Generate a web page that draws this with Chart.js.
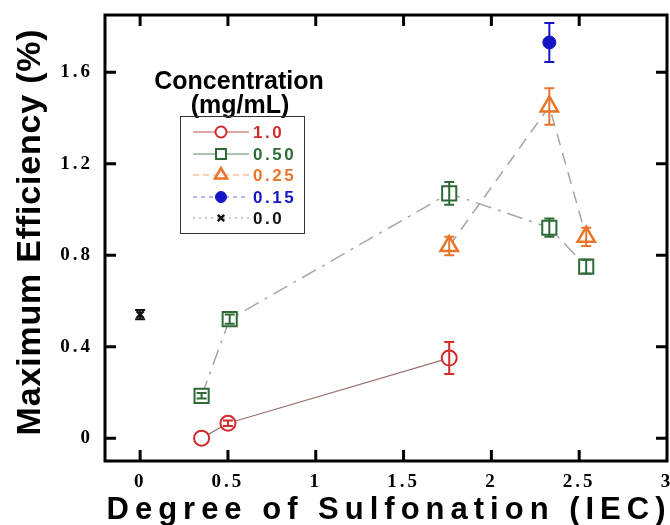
<!DOCTYPE html>
<html><head><meta charset="utf-8">
<script src="https://cdn.jsdelivr.net/npm/chart.js@4"></script>
<style>html,body{margin:0;padding:0;background:#fff;}#wrap{width:670px;height:525px;}</style>
</head><body><div id="wrap"><canvas id="c" width="670" height="525"></canvas></div>
<script>
// ---- data ----
const seriesNames = ['1.0', '0.50', '0.25', '0.15', '0.0'];
const x10 = [0.35, 0.50, 1.76];
const y10 = [0.0, 0.065, 0.35];
const e10 = [0.0, 0.012, 0.07];
const x050 = [0.35, 0.51, 1.76, 2.33, 2.54];
const y050 = [0.185, 0.52, 1.07, 0.92, 0.75];
const e050 = [0.012, 0.02, 0.05, 0.04, 0.03];
const x025 = [1.76, 2.33, 2.54];
const y025 = [0.84, 1.45, 0.88];
const e025 = [0.04, 0.08, 0.04];
const x015 = [2.33];
const y015 = [1.73];
const e015 = [0.085];
const x00 = [0.0];
const y00 = [0.54];
const e00 = [0.02];
const xTicks = [0, 0.5, 1, 1.5, 2, 2.5, 3];
const xTickLabels = ['0', '0.5', '1', '1.5', '2', '2.5', '3'];
const yTicks = [0, 0.4, 0.8, 1.2, 1.6];
const yTickLabels = ['0', '0.4', '0.8', '1.2', '1.6'];
const xTitle = 'Degree of Sulfonation (IEC)';
const yTitle = 'Maximum Efficiency (%)';
const legendTitle1 = 'Concentration';
const legendTitle2 = '(mg/mL)';

// ---- styles ----
const RED = '#d42a2a', GREEN = '#2d6a35', ORANGE = '#e8762a', BLUE = '#1515c8', BLACK = '#111111';
const GRAY = '#a6a6a6';
function pts(xs, ys) { return xs.map((x, i) => ({x: x, y: ys[i]})); }

const datasets = [
  {label: seriesNames[0], data: pts(x10, y10), errors: e10, showLine: true, borderColor: '#9c7070', borderWidth: 1.2,
   pointStyle: 'circle', pointRadius: 7.5, pointBorderColor: RED, pointBackgroundColor: '#fff', pointBorderWidth: 2, errColor: RED,
   lg: {r: 5.5, line: [], lineColor: '#c05050'}},
  {label: seriesNames[1], data: pts(x050, y050), errors: e050, showLine: true, borderColor: GRAY, borderWidth: 1.5, borderDash: [16, 7, 3, 7],
   pointStyle: 'rect', pointRadius: 10, pointBorderColor: GREEN, pointBackgroundColor: '#fff', pointBorderWidth: 2, errColor: GREEN,
   lg: {r: 7, line: [], lineColor: '#5a8a5a'}},
  {label: seriesNames[2], data: pts(x025, y025), errors: e025, showLine: true, borderColor: GRAY, borderWidth: 1.5, borderDash: [12, 8],
   pointStyle: 'triangle', pointRadius: 10, pointBorderColor: ORANGE, pointBackgroundColor: '#fff', pointBorderWidth: 2.5, errColor: ORANGE,
   lg: {r: 7, line: [6, 4], lineColor: '#f0a070'}},
  {label: seriesNames[3], data: pts(x015, y015), errors: e015, showLine: false,
   pointStyle: 'circle', pointRadius: 6.5, pointBorderColor: BLUE, pointBackgroundColor: BLUE, pointBorderWidth: 1, errColor: BLUE,
   lg: {r: 5.5, line: [4, 4], lineColor: '#7070d0'}},
  {label: seriesNames[4], data: pts(x00, y00), errors: e00, showLine: false,
   pointStyle: 'crossRot', pointRadius: 5, pointBorderColor: BLACK, pointBackgroundColor: BLACK, pointBorderWidth: 2.5, errColor: BLACK,
   lg: {r: 4.5, line: [2, 4], lineColor: '#999'}}
];
const legendColors = [RED, GREEN, ORANGE, BLUE, BLACK];

const custom = {
  id: 'custom',
  beforeDraw(chart) { chart.ctx.letterSpacing = '3px'; },
  beforeDatasetsDraw(chart) { chart.ctx.letterSpacing = '0px'; },
  afterDatasetsDraw(chart) {
    const ctx = chart.ctx, xs = chart.scales.x, ys = chart.scales.y;
    ctx.save();
    chart.data.datasets.forEach(ds => {
      ds.data.forEach((p, i) => {
        const e = ds.errors[i];
        if (!e) return;
        const px = xs.getPixelForValue(p.x);
        const t = ys.getPixelForValue(p.y + e), b = ys.getPixelForValue(p.y - e);
        ctx.strokeStyle = ds.errColor; ctx.lineWidth = 2;
        ctx.beginPath();
        ctx.moveTo(px, t); ctx.lineTo(px, b);
        ctx.moveTo(px - 5, t); ctx.lineTo(px + 5, t);
        ctx.moveTo(px - 5, b); ctx.lineTo(px + 5, b);
        ctx.stroke();
      });
    });
    ctx.restore();
  },
  afterDraw(chart) {
    const ctx = chart.ctx, a = chart.chartArea, xs = chart.scales.x, ys = chart.scales.y;
    ctx.save();
    ctx.letterSpacing = '0px';
    // frame
    ctx.strokeStyle = '#000'; ctx.lineWidth = 3;
    ctx.strokeRect(a.left, a.top, a.right - a.left, a.bottom - a.top);
    // inward ticks
    ctx.beginPath();
    xTicks.forEach(v => {
      const px = xs.getPixelForValue(v);
      if (px > a.right - 2) return;
      ctx.moveTo(px, a.bottom); ctx.lineTo(px, a.bottom - 11);
      ctx.moveTo(px, a.top); ctx.lineTo(px, a.top + 11);
    });
    yTicks.forEach(v => {
      const py = ys.getPixelForValue(v);
      ctx.moveTo(a.left, py); ctx.lineTo(a.left + 11, py);
      ctx.moveTo(a.right, py); ctx.lineTo(a.right - 11, py);
    });
    ctx.stroke();
    // axis titles
    ctx.fillStyle = '#000';
    ctx.font = 'bold 31px "Liberation Sans", Arial, sans-serif';
    ctx.letterSpacing = '6px';
    ctx.textAlign = 'center'; ctx.textBaseline = 'alphabetic';
    ctx.fillText(xTitle, 389, 519);
    ctx.save();
    ctx.translate(40, 232); ctx.rotate(-Math.PI / 2);
    ctx.font = 'bold 34px "Liberation Sans", Arial, sans-serif';
    ctx.letterSpacing = '0.8px';
    ctx.fillText(yTitle, 0, 0);
    ctx.restore();
    // legend
    ctx.letterSpacing = '0px';
    ctx.font = 'bold 25px "Liberation Sans", Arial, sans-serif';
    ctx.fillText(legendTitle1, 239, 89);
    ctx.fillText(legendTitle2, 240, 113);
    ctx.lineWidth = 1; ctx.strokeStyle = '#333';
    ctx.strokeRect(180.5, 116.5, 124, 117);
    const rows = [132, 154, 175, 197, 218];
    chart.data.datasets.forEach((ds, i) => {
      const y = rows[i];
      ctx.save();
      ctx.strokeStyle = ds.lg.lineColor; ctx.lineWidth = 1.2; ctx.setLineDash(ds.lg.line);
      ctx.beginPath(); ctx.moveTo(193, y); ctx.lineTo(249, y); ctx.stroke();
      ctx.setLineDash([]);
      ctx.fillStyle = ds.pointBackgroundColor; ctx.strokeStyle = ds.pointBorderColor;
      ctx.lineWidth = ds.pointBorderWidth;
      Chart.helpers.drawPoint(ctx, {pointStyle: ds.pointStyle, radius: ds.lg.r, rotation: 0, borderWidth: ds.pointBorderWidth}, 221, y);
      ctx.restore();
      ctx.fillStyle = legendColors[i];
      ctx.font = 'bold 17px "Liberation Sans", Arial, sans-serif';
      ctx.letterSpacing = '2.5px';
      ctx.textAlign = 'left'; ctx.textBaseline = 'middle';
      ctx.fillText(ds.label, 253, y + 1);
      ctx.letterSpacing = '0px';
    });
    ctx.restore();
  }
};

function noPad(s) { s.paddingLeft = 0; s.paddingRight = 0; s.paddingTop = 0; s.paddingBottom = 0; }

new Chart(document.getElementById('c'), {
  type: 'scatter',
  data: {datasets: datasets},
  plugins: [custom],
  options: {
    responsive: false, animation: false, devicePixelRatio: 1,
    layout: {autoPadding: false, padding: {top: 15, right: 3, left: 0, bottom: 0}},
    plugins: {legend: {display: false}, tooltip: {enabled: false}},
    scales: {
      x: {
        type: 'linear', min: -0.2, max: 3,
        afterBuildTicks: s => { s.ticks = xTicks.map(v => ({value: v})); },
        afterFit: s => { s.height = 64; noPad(s); },
        grid: {display: false, drawTicks: false}, border: {display: false},
        ticks: {padding: 10, color: '#000', maxRotation: 0, autoSkip: false,
          font: {family: '"Liberation Serif", "Times New Roman", serif', size: 19, weight: 'bold'},
          callback: (v, i) => xTickLabels[i]}
      },
      y: {
        type: 'linear', min: -0.1, max: 1.85,
        afterBuildTicks: s => { s.ticks = yTicks.map(v => ({value: v})); },
        afterFit: s => { s.width = 105; noPad(s); },
        grid: {display: false, drawTicks: false}, border: {display: false},
        ticks: {padding: 12, color: '#000', autoSkip: false,
          font: {family: '"Liberation Serif", "Times New Roman", serif', size: 19, weight: 'bold'},
          callback: (v, i) => yTickLabels[i]}
      }
    }
  }
});
</script></body></html>
